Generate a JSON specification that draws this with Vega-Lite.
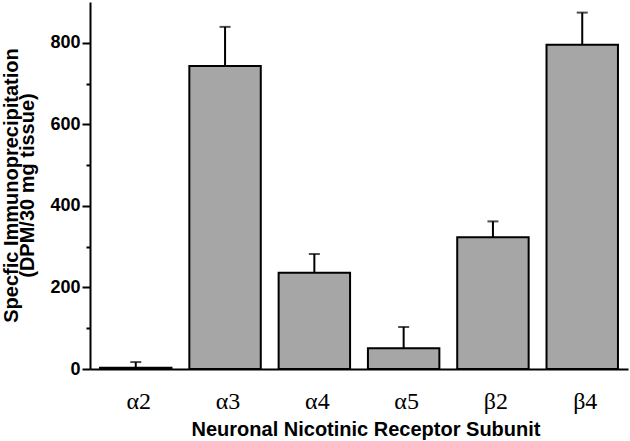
{
  "$schema": "https://vega.github.io/schema/vega-lite/v6.json",
  "width": 538,
  "height": 367,
  "autosize": {"type": "none"},
  "padding": {"left": 90, "top": 2, "right": 2, "bottom": 72},
  "background": "white",
  "config": {"view": {"stroke": null}},
  "data": {
    "values": [
      {"subunit": "α2", "value": 3, "upper": 17},
      {"subunit": "α3", "value": 743, "upper": 839},
      {"subunit": "α4", "value": 236, "upper": 282},
      {"subunit": "α5", "value": 51, "upper": 103},
      {"subunit": "β2", "value": 323, "upper": 362},
      {"subunit": "β4", "value": 795, "upper": 874}
    ]
  },
  "encoding": {
    "x": {
      "field": "subunit",
      "type": "nominal",
      "sort": null,
      "scale": {"paddingInner": 0.2, "paddingOuter": 0.1125},
      "axis": {
        "title": "Neuronal Nicotinic Receptor Subunit",
        "ticks": false,
        "labelAngle": 0,
        "labelFont": "Liberation Serif",
        "labelFontSize": 24,
        "labelColor": "black",
        "labelBaseline": "alphabetic",
        "labelPadding": 39,
        "labelOffset": 3,
        "domainColor": "black",
        "domainWidth": 2,
        "titleFont": "Liberation Sans",
        "titleFontSize": 20,
        "titleFontWeight": "bold",
        "titleColor": "black",
        "titleBaseline": "alphabetic",
        "titleY": 66,
        "titleX": 275.5
      }
    }
  },
  "layer": [
    {
      "mark": {"type": "bar", "fill": "#a6a6a6", "stroke": "black", "strokeWidth": 2},
      "encoding": {
        "y": {
          "field": "value",
          "type": "quantitative",
          "scale": {"domain": [0, 900], "nice": false},
          "axis": {
            "title": ["Specfic Immunoprecipitation", "(DPM/30 mg tissue)"],
            "values": [0, 100, 200, 300, 400, 500, 600, 700, 800],
            "labelExpr": "datum.value % 200 === 0 ? datum.label : ''",
            "tickSize": {"condition": {"test": "datum.value % 200 === 0", "value": 8}, "value": 4},
            "tickWidth": 2,
            "tickColor": "black",
            "domainColor": "black",
            "domainWidth": 2,
            "grid": false,
            "labelFont": "Liberation Sans",
            "labelFontSize": 18,
            "labelFontWeight": "bold",
            "labelColor": "black",
            "labelPadding": 2,
            "titleFont": "Liberation Sans",
            "titleFontSize": 20,
            "titleFontWeight": "bold",
            "titleColor": "black",
            "titleX": -69,
            "titleY": 183,
            "titleLineHeight": 16
          }
        }
      }
    },
    {
      "mark": {"type": "rule", "strokeWidth": 2, "color": "black"},
      "encoding": {
        "y": {"field": "value", "type": "quantitative"},
        "y2": {"field": "upper"}
      }
    },
    {
      "mark": {"type": "tick", "thickness": 2, "size": 11, "color": "black"},
      "encoding": {
        "y": {"field": "upper", "type": "quantitative"}
      }
    }
  ]
}
